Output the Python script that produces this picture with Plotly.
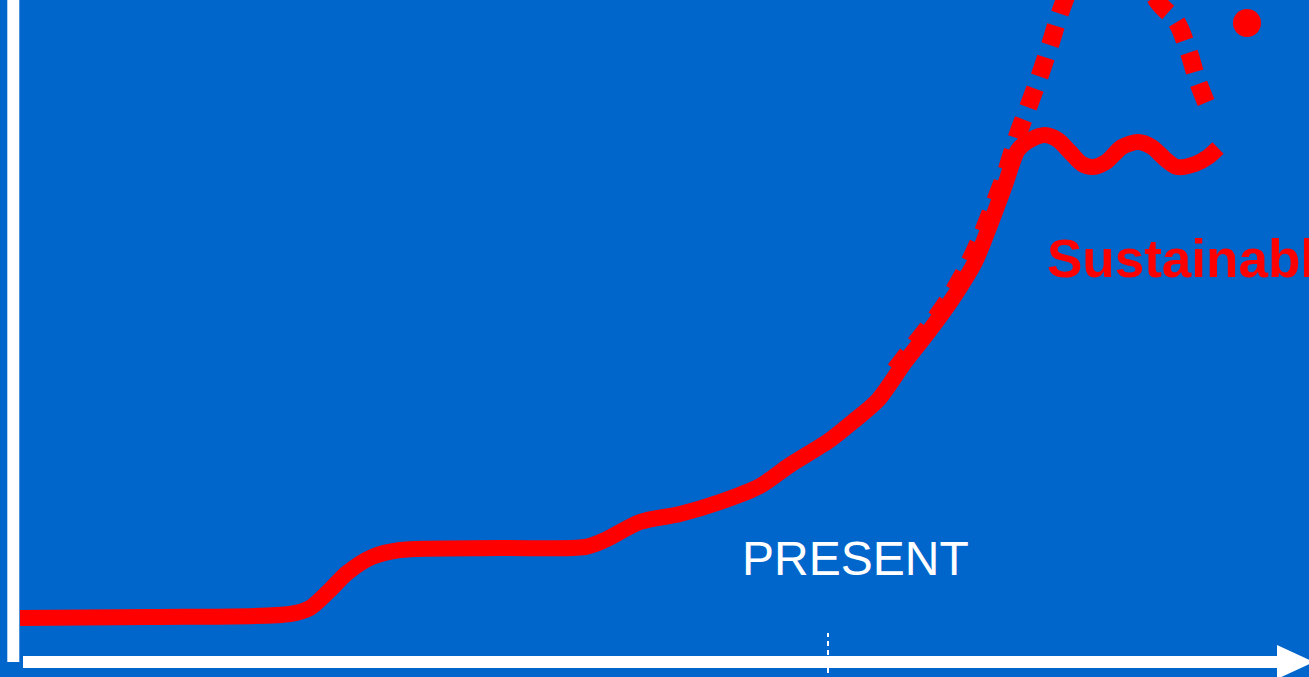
import plotly.graph_objects as go

# Chart space: horizontal = time (0..1309), vertical = level (0..677)
W, H = 1309, 677

# Actual path (solid red line)
time_actual = [20, 150, 290, 310, 330, 347, 372, 400, 500, 585, 605, 640, 680, 720, 760,
               790, 830, 855, 878, 905, 930, 955, 975, 990, 1005, 1018, 1030, 1045,
               1058, 1070, 1082, 1093, 1106, 1122, 1138, 1152, 1165, 1177, 1195, 1208, 1218]
level_actual = [59, 60, 63, 69, 87, 104, 120, 127, 129, 130, 137, 155, 163, 175, 191,
                212, 237, 257, 277, 315, 347, 382, 415, 452, 492, 527, 537, 542,
                537, 525, 513, 510, 515, 530, 535, 530, 518, 510, 513, 520, 529]

# Overshoot-and-collapse path (dotted red line)
time_overshoot = [895, 915, 940, 960, 977, 992, 1006, 1018, 1029, 1040, 1050, 1060,
                  1070, 1083, 1103, 1123, 1142, 1158, 1176, 1188, 1198, 1208]
level_overshoot = [307, 333, 365, 397, 431, 468, 505, 543, 572, 602, 632, 664,
                   690, 717, 732, 730, 708, 675, 656, 627, 595, 570]

# Marker at the top right
dot_time = [1247]
dot_level = [654]

# Text labels
label_present = "PRESENT"
present_pos = (855, 119)
label_sustainable = "Sustainable"
sustainable_pos = (1045, 419)

BLUE = "#0066CC"
RED = "#FF0000"
WHITE = "#FFFFFF"
FONT = "Arial, 'Liberation Sans', sans-serif"

fig = go.Figure()

fig.add_trace(go.Scatter(
    x=time_overshoot, y=level_overshoot, mode="lines",
    line=dict(color=RED, width=18, dash="20px,13px", shape="spline", smoothing=1.0),
    hoverinfo="skip", showlegend=False,
))
fig.add_trace(go.Scatter(
    x=time_actual, y=level_actual, mode="lines",
    line=dict(color=RED, width=16, shape="spline", smoothing=0.8),
    hoverinfo="skip", showlegend=False,
))
fig.add_trace(go.Scatter(
    x=dot_time, y=dot_level, mode="markers",
    marker=dict(color=RED, size=28, line=dict(width=0)),
    hoverinfo="skip", showlegend=False,
))

shapes = [
    # vertical axis
    dict(type="line", x0=13.3, x1=13.3, y0=15, y1=H + 5,
         line=dict(color=WHITE, width=12), layer="above"),
    # horizontal axis with arrow
    dict(type="line", x0=23, x1=1280, y0=15, y1=15,
         line=dict(color=WHITE, width=12), layer="above"),
    dict(type="path", path="M 1277 32 L 1277 -2 L 1314 15 Z",
         fillcolor=WHITE, line=dict(width=0), layer="above"),
    # present marker
    dict(type="line", x0=828, x1=828, y0=-5, y1=44,
         line=dict(color=WHITE, width=2, dash="5px,4px"), layer="above"),
]

annotations = [
    dict(x=present_pos[0], y=present_pos[1], text=label_present, showarrow=False,
         xanchor="center", yanchor="middle",
         font=dict(family=FONT, size=48, color=WHITE)),
    dict(x=sustainable_pos[0], y=sustainable_pos[1], text="<b>" + label_sustainable + "</b>",
         showarrow=False, xanchor="left", yanchor="middle",
         font=dict(family=FONT, size=53, color=RED)),
]

fig.update_layout(
    width=W, height=H,
    margin=dict(l=0, r=0, t=0, b=0),
    paper_bgcolor=BLUE, plot_bgcolor=BLUE,
    xaxis=dict(range=[0, W], visible=False, fixedrange=True),
    yaxis=dict(range=[0, H], visible=False, fixedrange=True),
    shapes=shapes, annotations=annotations,
    showlegend=False,
)

fig.write_html("out.html", config={"displayModeBar": False})
